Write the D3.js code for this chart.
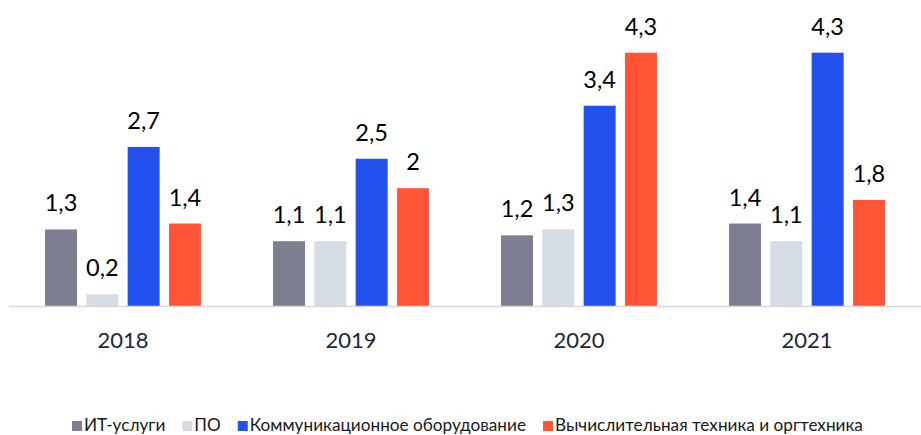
<!DOCTYPE html>
<html><head><meta charset="utf-8">
<script src="https://cdn.jsdelivr.net/npm/d3@7"></script>
<style>body{margin:0;background:#fff}svg{display:block}text{font-family:Lato,"Open Sans",sans-serif}</style>
</head><body><svg id="c" width="921" height="435"></svg>
<script>
const years = ["2018","2019","2020","2021"];
const seriesNames = ["ИТ-услуги","ПО","Коммуникационное оборудование","Вычислительная техника и оргтехника"];
const seriesColors = ["#7F7F92","#D6DCE4","#2251EE","#FF5436"];
const itServices = [1.3,1.1,1.2,1.4];
const software = [0.2,1.1,1.3,1.1];
const commEquip = [2.7,2.5,3.4,4.3];
const computing = [1.4,2,4.3,1.8];
const values = [itServices, software, commEquip, computing];

const svg = d3.select("#c");
const baseY = 306, topY = 52.7;
const y = d3.scaleLinear().domain([0,4.3]).range([baseY, topY]);
const x0 = d3.scaleBand().domain(years).range([9,921]).paddingInner(0.316).paddingOuter(0.158);
const x1 = d3.scaleBand().domain(d3.range(4)).range([0,x0.bandwidth()]).paddingInner(0.225);
const fmt = v => String(v).replace(".", ",");

const g = svg.append("g");
years.forEach((yr, yi) => {
  const gg = g.append("g").attr("transform", `translate(${x0(yr)},0)`);
  values.forEach((arr, si) => {
    const v = arr[yi];
    gg.append("rect").attr("x", x1(si)).attr("width", x1.bandwidth())
      .attr("y", y(v)).attr("height", baseY - y(v)).attr("fill", seriesColors[si]);
    gg.append("text").attr("x", x1(si) + x1.bandwidth()/2).attr("y", y(v) - 18)
      .attr("text-anchor","middle").attr("font-size", 23.5).attr("fill","#000").text(fmt(v));
  });
});
svg.append("line").attr("x1",9).attr("x2",921).attr("y1",baseY+0.5).attr("y2",baseY+0.5)
  .attr("stroke","#D9D9D9").attr("stroke-width",1.5);
const xAxis = svg.append("g").attr("transform",`translate(0,${baseY})`)
  .call(d3.axisBottom(x0).tickSize(0).tickPadding(0));
xAxis.select(".domain").remove();
xAxis.selectAll("text").attr("font-size",22).attr("fill","#1B2838").attr("dy",null).attr("y",42)
  .attr("font-family","Lato,'Open Sans',sans-serif");

const leg = svg.append("g");
let lx = 72;
seriesNames.forEach((n, i) => {
  leg.append("rect").attr("x", lx).attr("y", 421).attr("width", 10).attr("height", 10).attr("fill", seriesColors[i]);
  const t = leg.append("text").attr("x", lx + 12).attr("y", 431).attr("font-size", 17.2).attr("fill","#1a1a1a").text(n);
  lx += 12 + t.node().getComputedTextLength() + 17;
});
</script></body></html>
